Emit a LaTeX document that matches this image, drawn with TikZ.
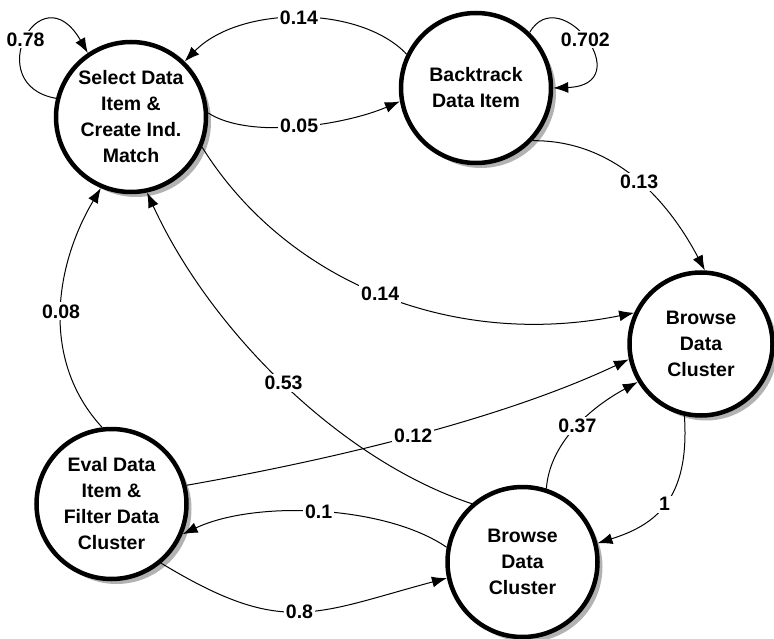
\documentclass[tikz,border=0pt]{standalone}
\usepackage{fontspec}
\setmainfont{Liberation Sans}
\usetikzlibrary{arrows.meta,shadows}
\begin{document}
\begin{tikzpicture}[x=1pt,y=-1pt,
  state/.style={circle,draw,line width=4.5pt,fill=white,minimum size=150pt,
    inner sep=0pt,align=center,font=\fontsize{19.5}{26}\selectfont\bfseries,
    drop shadow={shadow xshift=5pt,shadow yshift=-5pt,fill=gray!60,opacity=1}},
  edge/.style={line width=1pt,-{Latex[length=15pt,width=11pt]}},
  lbl/.style={fill=white,inner sep=2pt,font=\fontsize{19.5}{24}\selectfont\bfseries}]
\useasboundingbox (0,0) rectangle (774,639);

% states
\node[state] (sel)  at (131,117)   {Select Data\\Item \&\\Create Ind.\\Match};
\node[state] (back) at (476,88)    {Backtrack\\Data Item};
\node[state,minimum size=143pt] (brr) at (701,344) {Browse\\Data\\Cluster};
\node[state] (eval) at (111.5,504) {Eval Data\\Item \&\\Filter Data\\Cluster};
\node[state] (brb)  at (522.5,562) {Browse\\Data\\Cluster};

% transitions
\draw[edge] (sel.166) .. controls (-20,85) and (40,-30) .. node[lbl]{0.78} (sel.124);
\draw[edge] (back.154) .. controls (360,5) and (240,5) .. node[lbl]{0.14} (sel.46);
\draw[edge] (sel.3) .. controls (250,140) and (345,125) .. node[lbl]{0.05} (back.190);
\draw[edge] (back.46) .. controls (560,-20) and (640,85) .. node[lbl]{0.702} (back.0);
\draw[edge] (back.-43) .. controls (620,140) and (672,208) .. node[lbl]{0.13} (brr.87);
\draw[edge] (sel.-23) .. controls (285,280) and (450,350) .. node[lbl]{0.14} (brr.155);
\draw[edge] (eval.97) .. controls (40,360) and (55,265) .. node[lbl]{0.08} (sel.247);
\draw[edge] (brb.131) .. controls (340,460) and (210,330) .. node[lbl]{0.53} (sel.-78);
\draw[edge] (eval.14) .. controls (330,460) and (500,420) .. node[lbl]{0.12} (brr.192);
\draw[edge] (brb.72) .. controls (550,440) and (595,405) .. node[lbl]{0.37} (brr.211);
\draw[edge] (brr.257) .. controls (690,500) and (655,525) .. node[lbl]{1} (brb.14);
\draw[edge] (brb.169) .. controls (385,505) and (255,500) .. node[lbl]{0.1} (eval.-23);
\draw[edge] (eval.-50) .. controls (283,637) and (313,614) .. node[lbl]{0.8} (brb.192);
\end{tikzpicture}
\end{document}
